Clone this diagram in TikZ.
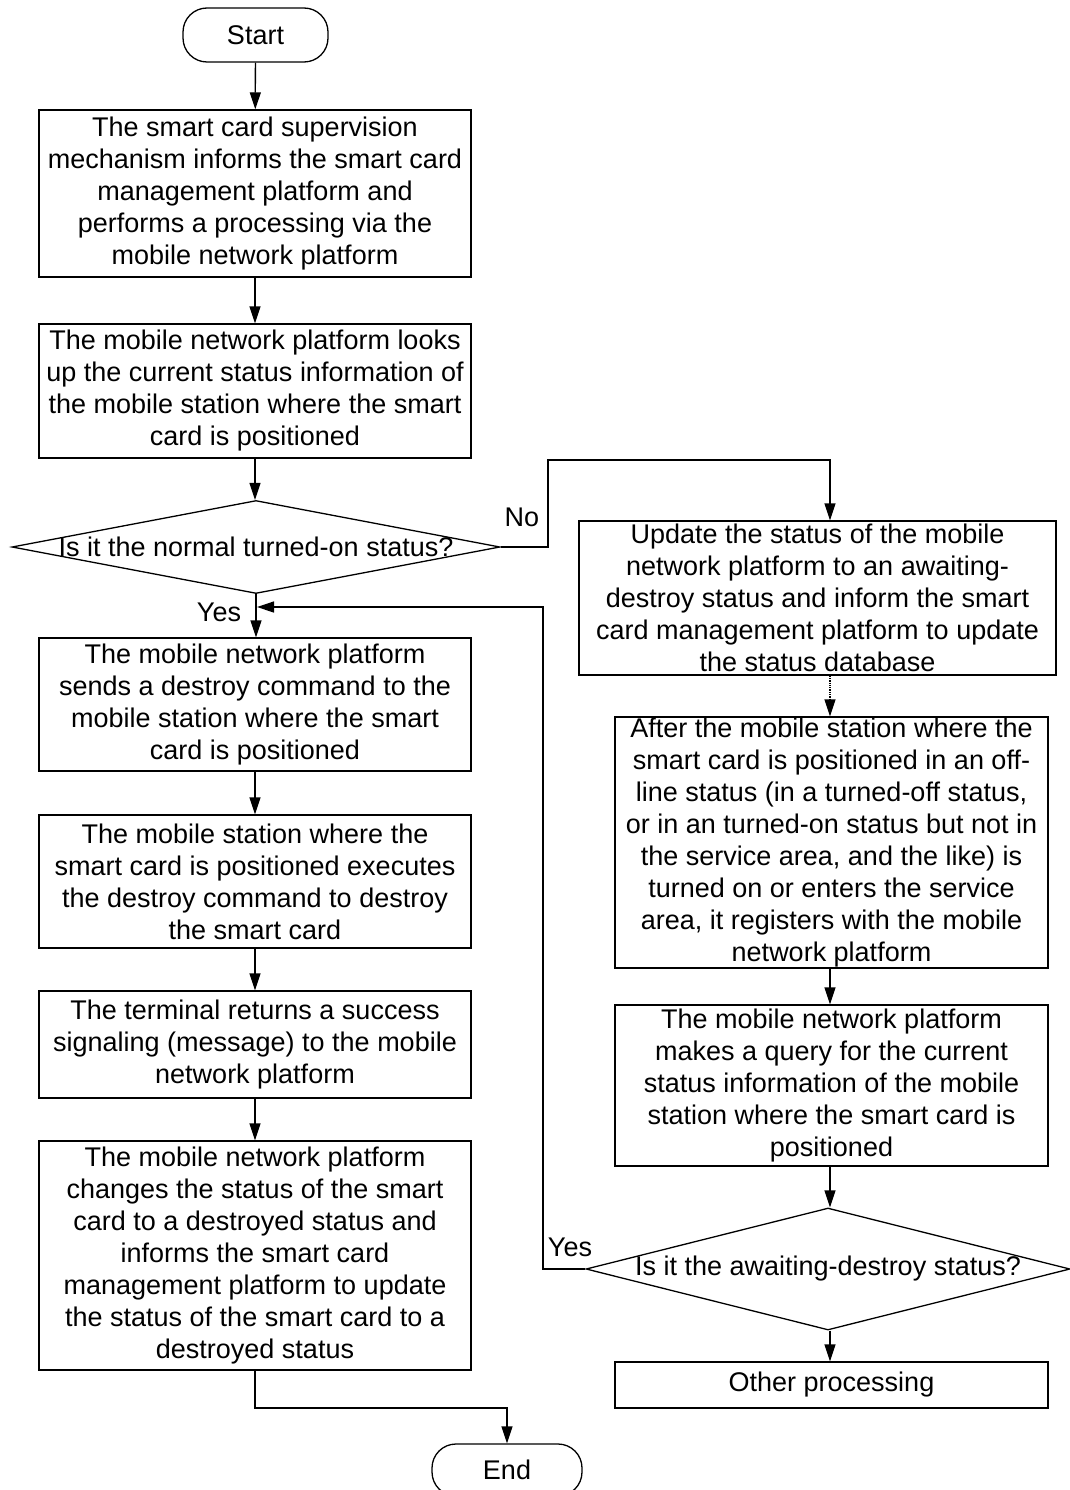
\documentclass[tikz,border=0pt]{standalone}
\usepackage{fontspec}
\setmainfont{Liberation Sans}
\usetikzlibrary{shapes.geometric,arrows.meta}
\begin{document}
\begin{tikzpicture}[x=1pt,y=-1pt,
  font=\fontsize{27}{32}\selectfont,
  every node/.style={inner sep=0pt},
  box/.style={draw, line width=1.3pt},
  txt/.style={label={[align=center, font=\fontsize{27}{32}\selectfont]center:{#1}}},
  term/.style={draw, line width=1.3pt, rounded corners=24pt, minimum width=145pt, minimum height=54pt},
  dia/.style={draw, diamond, line width=1.3pt},
  arr/.style={-{Triangle[length=17pt,width=11pt]}, line width=1.3pt},
  ln/.style={line width=1.3pt}]
\useasboundingbox (0,0) rectangle (1070,1490);

\node[term] (start) at (255.5,35) {Start};
\node[box, minimum width=432pt, minimum height=167pt, txt={The smart card supervision\\mechanism informs the smart card\\management platform and\\performs a processing via the\\mobile network platform}] (b1) at (255,193.5) {};
\node[box, minimum width=432pt, minimum height=134pt, txt={The mobile network platform looks\\up the current status information of\\the mobile station where the smart\\card is positioned}] (b2) at (255,391) {};
\node[dia, minimum width=488pt, minimum height=93pt] (d1) at (256,547)
  {\makebox[0pt]{Is it the normal turned-on status?}};
\node[box, minimum width=432pt, minimum height=133pt, txt={The mobile network platform\\sends a destroy command to the\\mobile station where the smart\\card is positioned}] (b3) at (255,704.5) {};
\node[box, minimum width=432pt, minimum height=133pt, txt={The mobile station where the\\smart card is positioned executes\\the destroy command to destroy\\the smart card}] (b4) at (255,881.5) {};
\node[box, minimum width=432pt, minimum height=107pt, txt={The terminal returns a success\\signaling (message) to the mobile\\network platform}] (b5) at (255,1044.5) {};
\node[box, minimum width=432pt, minimum height=229pt, txt={The mobile network platform\\changes the status of the smart\\card to a destroyed status and\\informs the smart card\\management platform to update\\the status of the smart card to a\\destroyed status}] (b6) at (255,1255.5) {};
\node[term, minimum width=150pt, minimum height=52pt] (end) at (507,1470) {End};

\node[box, minimum width=477pt, minimum height=154pt, txt={Update the status of the mobile\\network platform to an awaiting-\\destroy status and inform the smart\\card management platform to update\\the status database}] (up) at (817.5,598) {};
\node[box, minimum width=433pt, minimum height=251pt, txt={After the mobile station where the\\smart card is positioned in an off-\\line status (in a turned-off status,\\or in an turned-on status but not in\\the service area, and the like) is\\turned on or enters the service\\area, it registers with the mobile\\network platform}] (af) at (831.5,842.5) {};
\node[box, minimum width=433pt, minimum height=161pt, txt={The mobile network platform\\makes a query for the current\\status information of the mobile\\station where the smart card is\\positioned}] (q) at (831.5,1085.5) {};
\node[dia, minimum width=484pt, minimum height=122pt] (d2) at (828,1269)
  {\makebox[0pt]{Is it the awaiting-destroy status?}};
\node[box, minimum width=433pt, minimum height=46pt, txt={Other processing}] (oth) at (831.5,1385) {};

\node (no) at (522,517) {No};
\node (yes1) at (219,612) {Yes};
\node (yes2) at (570,1247) {Yes};

\coordinate (n1) at (548,547);
\coordinate (n2) at (830,460);
\coordinate (y1) at (543,1269);
\coordinate (y2) at (257,607);
\coordinate (e1) at (255,1408);

\draw[arr] (start) -- (b1);
\draw[arr] (b1) -- (b2);
\draw[arr] (b2.south) -- (b2.south |- d1.north);
\draw[arr] (d1.south) -- (d1.south |- b3.north);
\draw[arr] (b3) -- (b4);
\draw[arr] (b4) -- (b5);
\draw[arr] (b5) -- (b6);
\draw[arr] (b6.south) -- (e1) -| (end.north);
\draw[arr] (d1.east) -- (n1) |- (n2) -- (n2 |- up.north);
\draw[arr, densely dotted] (n2 |- up.south) -- (n2 |- af.north);
\draw[arr] (af.south -| n2) -- (n2 |- q.north);
\draw[arr] (q.south -| n2) -- (n2 |- d2.north);
\draw[arr] (d2.south -| n2) -- (n2 |- oth.north);
\draw[arr] (d2.west) -- (y1) |- (y2);
\end{tikzpicture}
\end{document}
